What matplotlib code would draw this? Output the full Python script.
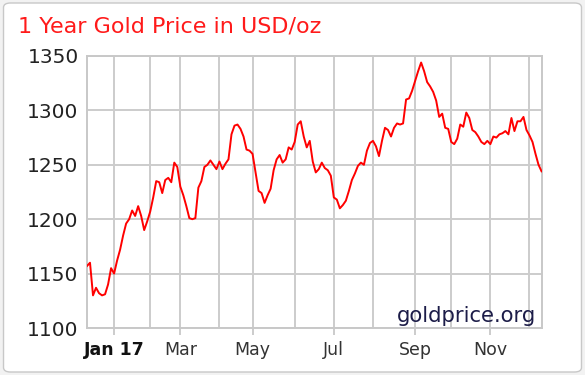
import numpy as np
import matplotlib
matplotlib.use("Agg")
import matplotlib.pyplot as plt
from matplotlib.patches import FancyBboxPatch

plt.rcParams['font.family'] = ['DejaVu Sans']

# gold price (roughly every 2 trading days, Dec 2016 - Dec 2017)
prices = [
    1157, 1160, 1130, 1137, 1132, 1130, 1131, 1140, 1155, 1150,
    1162, 1172, 1185, 1196, 1200, 1208, 1203, 1212, 1203, 1190,
    1198, 1207, 1220, 1235, 1234, 1224, 1236, 1238, 1234, 1252,
    1248, 1230, 1222, 1212, 1201, 1200, 1201, 1229, 1235, 1248,
    1250, 1254, 1250, 1246, 1253, 1246, 1251, 1255, 1278, 1286,
    1287, 1283, 1276, 1264, 1263, 1260, 1243, 1226, 1224, 1215,
    1222, 1228, 1245, 1255, 1259, 1252, 1255, 1266, 1264, 1271,
    1287, 1290, 1276, 1266, 1272, 1253, 1243, 1246, 1252, 1247,
    1245, 1240, 1220, 1218, 1210, 1213, 1217, 1226, 1236, 1242,
    1249, 1252, 1250, 1263, 1270, 1272, 1267, 1258, 1272, 1284,
    1282, 1276, 1284, 1288, 1287, 1288, 1310, 1311, 1318, 1327,
    1336, 1344, 1336, 1326, 1322, 1317, 1309, 1294, 1297, 1284,
    1283, 1271, 1269, 1274, 1287, 1285, 1298, 1293, 1282, 1280,
    1276, 1271, 1269, 1272, 1269, 1276, 1275, 1278, 1279, 1281,
    1278, 1293, 1281, 1290, 1290, 1294, 1282, 1277, 1271, 1260,
    1250, 1244,
]

# sample index where each month starts
month_names = ["Jan 17", "Feb", "Mar", "Apr", "May", "Jun",
               "Jul", "Aug", "Sep", "Oct", "Nov", "Dec"]
month_start = [9, 21, 31, 44, 55, 69, 82, 95, 109, 121, 134, 147]
y_ticks = [1100, 1150, 1200, 1250, 1300, 1350]

fig = plt.figure(figsize=(5.85, 3.75), dpi=100)
fig.patch.set_facecolor("#f2f2f2")

# white rounded panel behind everything
panel = FancyBboxPatch((0.006, 0.008), 0.988, 0.984,
                       boxstyle="round,pad=0,rounding_size=0.012",
                       transform=fig.transFigure, facecolor="white",
                       edgecolor="#c8c8c8", linewidth=1.0, zorder=0)
fig.patches.append(panel)

ax = fig.add_axes([0.1487, 0.1253, 0.777, 0.7254])
ax.set_zorder(2)
x = np.arange(len(prices))
ax.plot(x, prices, color="#ff0000", linewidth=1.4, zorder=3)

ax.set_xlim(0, len(prices) - 1)
ax.set_ylim(1100, 1350)

ax.set_yticks(y_ticks)
ax.set_yticklabels([str(v) for v in y_ticks], fontsize=14.5, color="#222222")
ax.tick_params(axis="y", length=0, pad=6)

# labelled months get a tick mark, the others only a grid line
major = month_start[0::2]
minor = month_start[1::2]
ax.set_xticks(major)
ax.set_xticklabels(month_names[0::2], fontsize=12.5, color="#333333")
ax.get_xticklabels()[0].set_fontweight("bold")
ax.get_xticklabels()[0].set_color("#111111")
ax.set_xticks(minor, minor=True)
ax.tick_params(axis="x", which="major", length=5, width=1.3,
               color="#c8c8c8", pad=4)
ax.tick_params(axis="x", which="minor", length=0)

ax.grid(True, which="both", color="#cccccc", linewidth=1.4, zorder=1)
ax.set_axisbelow(True)
for s in ax.spines.values():
    s.set_color("#c8c8c8")
    s.set_linewidth(1.4)

ax.text(0.989, 0.008, "goldprice.org", transform=ax.transAxes,
        ha="right", va="bottom", fontsize=15.2, color="#1c1c48", zorder=4)

fig.text(0.031, 0.928, "1 Year Gold Price in USD/oz", color="#ff1a1a",
         fontsize=16, ha="left", va="center")

fig.savefig("out.png", dpi=100, facecolor=fig.get_facecolor())
